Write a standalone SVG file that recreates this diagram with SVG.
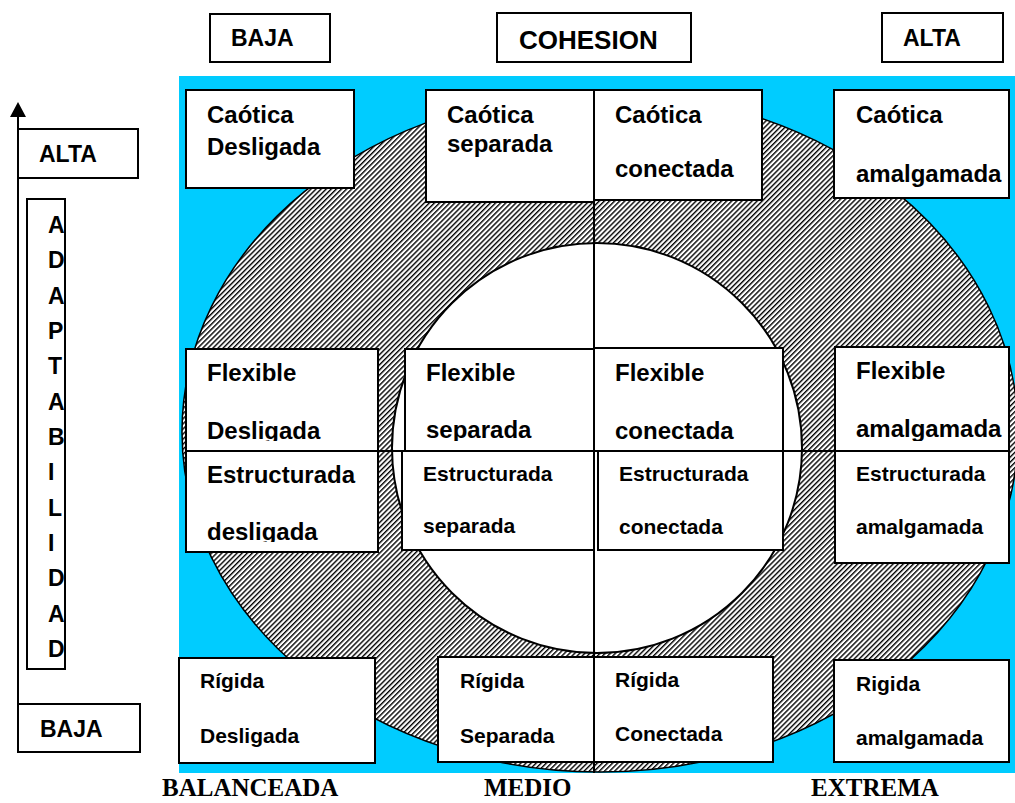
<svg xmlns="http://www.w3.org/2000/svg" width="1015" height="803" viewBox="0 0 1015 803">
<style>
.box{fill:#fff;stroke:#000;stroke-width:2}
.t{font-family:"Liberation Sans",Arial,sans-serif;font-weight:bold;fill:#000}
.s24{font-size:24px}
.s23{font-size:23px}
.s21{font-size:21px}
.s26{font-size:26px}
.tr{font-family:"Liberation Serif","Times New Roman",serif;font-weight:bold;font-size:25px;fill:#000}
.ln{stroke:#000;stroke-width:2;fill:none}
</style>
<defs>
<pattern id="hatch" width="3.6" height="10" patternUnits="userSpaceOnUse" patternTransform="rotate(45)">
<rect x="0" y="0" width="1.4" height="10" fill="#000"/>
</pattern>
<marker id="arr" viewBox="0 0 15 16" refX="0" refY="8" markerWidth="15" markerHeight="16" markerUnits="userSpaceOnUse" orient="auto">
<path d="M0,0 L15,8 L0,16 z" fill="#000"/>
</marker>
<clipPath id="c1"><rect x="186" y="349" width="192" height="92"/></clipPath>
<clipPath id="c2"><rect x="405" y="349" width="189" height="92"/></clipPath>
<clipPath id="c3"><rect x="594" y="348" width="189" height="93"/></clipPath>
<clipPath id="c4"><rect x="835" y="347" width="174" height="94"/></clipPath>
<clipPath id="c5"><rect x="186" y="451" width="192" height="91"/></clipPath>
</defs>

<rect x="179" y="76" width="836" height="697" fill="#00CCFF"/>
<ellipse cx="600" cy="432" rx="418" ry="340" fill="#fff"/>
<ellipse cx="600" cy="432" rx="418" ry="340" fill="url(#hatch)" stroke="#000" stroke-width="1.5"/>
<circle cx="597" cy="448" r="205" fill="#fff" stroke="#000" stroke-width="2"/>

<g id="connectors">
<line class="ln" x1="18" y1="750" x2="18" y2="117" marker-end="url(#arr)"/>
<line class="ln" x1="594" y1="90" x2="594" y2="773"/>
<line class="ln" x1="186" y1="451" x2="1009" y2="451"/>
</g>

<g id="cohesion-baja">
<rect class="box" x="210" y="14" width="120" height="48"/>
<text class="t s23" x="231" y="46">BAJA</text>
</g>
<g id="cohesion">
<rect class="box" x="497" y="13" width="194" height="49"/>
<text class="t s26" x="519" y="49">COHESION</text>
</g>
<g id="cohesion-alta">
<rect class="box" x="882" y="13" width="121" height="49"/>
<text class="t s23" x="903" y="46">ALTA</text>
</g>

<g id="adapt-alta">
<rect class="box" x="18" y="129" width="120" height="49"/>
<text class="t s23" x="39" y="162">ALTA</text>
</g>
<g id="adaptabilidad">
<rect class="box" x="27" y="199" width="38" height="470"/>
<text class="t s23">
<tspan x="48" y="233">A</tspan>
<tspan x="48" y="268.3">D</tspan>
<tspan x="48" y="303.7">A</tspan>
<tspan x="48" y="339">P</tspan>
<tspan x="48" y="374.3">T</tspan>
<tspan x="48" y="409.7">A</tspan>
<tspan x="48" y="445">B</tspan>
<tspan x="48" y="480.3">I</tspan>
<tspan x="48" y="515.7">L</tspan>
<tspan x="48" y="551">I</tspan>
<tspan x="48" y="586.3">D</tspan>
<tspan x="48" y="621.7">A</tspan>
<tspan x="48" y="657">D</tspan>
</text>
</g>
<g id="adapt-baja">
<rect class="box" x="18" y="704" width="122" height="48"/>
<text class="t s23" x="40" y="737">BAJA</text>
</g>

<g id="caotica-desligada">
<rect class="box" x="186" y="90" width="168" height="98"/>
<text class="t s24" x="207" y="123">Caótica</text>
<text class="t s24" x="207" y="155">Desligada</text>
</g>
<g id="caotica-separada">
<rect class="box" x="426" y="90" width="168" height="112"/>
<text class="t s24" x="447" y="123">Caótica</text>
<text class="t s24" x="447" y="152">separada</text>
</g>
<g id="caotica-conectada">
<rect class="box" x="594" y="90" width="168" height="110"/>
<text class="t s24" x="615" y="123">Caótica</text>
<text class="t s24" x="615" y="177">conectada</text>
</g>
<g id="caotica-amalgamada">
<rect class="box" x="834" y="90" width="175" height="108"/>
<text class="t s24" x="856" y="123">Caótica</text>
<text class="t s24" x="856" y="182">amalgamada</text>
</g>

<g id="flexible-desligada">
<rect class="box" x="186" y="349" width="192" height="102"/>
<g clip-path="url(#c1)">
<text class="t s24" x="207" y="381">Flexible</text>
<text class="t s24" x="207" y="439">Desligada</text>
</g>
</g>
<g id="flexible-separada">
<rect class="box" x="405" y="349" width="189" height="102"/>
<g clip-path="url(#c2)">
<text class="t s24" x="426" y="381">Flexible</text>
<text class="t s24" x="426" y="438">separada</text>
</g>
</g>
<g id="flexible-conectada">
<rect class="box" x="594" y="348" width="189" height="103"/>
<g clip-path="url(#c3)">
<text class="t s24" x="615" y="381">Flexible</text>
<text class="t s24" x="615" y="439">conectada</text>
</g>
</g>
<g id="flexible-amalgamada">
<rect class="box" x="835" y="347" width="174" height="104"/>
<g clip-path="url(#c4)">
<text class="t s24" x="856" y="379">Flexible</text>
<text class="t s24" x="856" y="437">amalgamada</text>
</g>
</g>

<g id="estructurada-desligada">
<rect class="box" x="186" y="451" width="192" height="101"/>
<g clip-path="url(#c5)">
<text class="t s24" x="207" y="483">Estructurada</text>
<text class="t s24" x="207" y="540">desligada</text>
</g>
</g>
<g id="estructurada-separada">
<rect class="box" x="402" y="451" width="192" height="99"/>
<text class="t s21" x="423" y="481">Estructurada</text>
<text class="t s21" x="423" y="533">separada</text>
</g>
<g id="estructurada-conectada">
<rect class="box" x="598" y="451" width="185" height="99"/>
<text class="t s21" x="619" y="481">Estructurada</text>
<text class="t s21" x="619" y="534">conectada</text>
</g>
<g id="estructurada-amalgamada">
<rect class="box" x="835" y="451" width="174" height="112"/>
<text class="t s21" x="856" y="481">Estructurada</text>
<text class="t s21" x="856" y="534">amalgamada</text>
</g>

<g id="rigida-desligada">
<rect class="box" x="179" y="658" width="196" height="105"/>
<text class="t s21" x="200" y="688">Rígida</text>
<text class="t s21" x="200" y="743">Desligada</text>
</g>
<g id="rigida-separada">
<rect class="box" x="438" y="657" width="156" height="105"/>
<text class="t s21" x="460" y="688">Rígida</text>
<text class="t s21" x="460" y="743">Separada</text>
</g>
<g id="rigida-conectada">
<rect class="box" x="594" y="657" width="179" height="105"/>
<text class="t s21" x="615" y="687">Rígida</text>
<text class="t s21" x="615" y="741">Conectada</text>
</g>
<g id="rigida-amalgamada">
<rect class="box" x="834" y="660" width="175" height="102"/>
<text class="t s21" x="856" y="691">Rigida</text>
<text class="t s21" x="856" y="745">amalgamada</text>
</g>

<g id="balanceada"><text class="tr" x="162" y="796">BALANCEADA</text></g>
<g id="medio"><text class="tr" x="484" y="796">MEDIO</text></g>
<g id="extrema"><text class="tr" x="811" y="796">EXTREMA</text></g>
</svg>
